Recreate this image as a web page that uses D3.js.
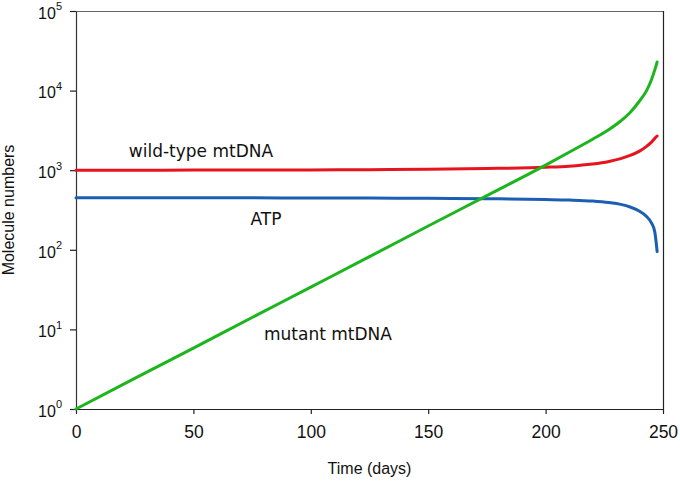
<!DOCTYPE html>
<html>
<head>
<meta charset="utf-8">
<script src="https://cdn.jsdelivr.net/npm/d3@7"></script>
<style>
  html, body { margin: 0; padding: 0; background: #fff; }
  svg { display: block; }
</style>
</head>
<body>
<svg id="chart" width="680" height="482"></svg>
<script>
// ---- data ----
const timeDays = [0, 25, 50, 75, 100, 125, 150, 175, 200, 210, 220, 227, 232, 236, 240, 243, 245, 246.5, 247.5];
const mutantMtDNA = [1, 2.42, 5.83, 14.1, 34, 82, 199, 480, 1160, 1680, 2450, 3250, 4150, 5300, 7400, 10000, 13500, 18200, 22900];
const wildTypeMtDNA = [1000, 1001, 1003, 1006, 1009, 1016, 1030, 1050, 1089, 1122, 1194, 1288, 1396, 1531, 1738, 1995, 2239, 2512, 2690];
const atp = [452, 452, 451, 450, 448, 446, 443, 438, 428, 422, 410, 392, 372, 345, 305, 262, 220, 168, 95];
const xTicks = [0, 50, 100, 150, 200, 250];
const yTickExponents = [0, 1, 2, 3, 4, 5];
const seriesNames = ["wild-type mtDNA", "ATP", "mutant mtDNA"];

// ---- layout ----
const svg = d3.select("#chart");
const mLeft = 76, mRight = 663, mTop = 11, mBottom = 409;

const x = d3.scaleLinear().domain([0, 250]).range([mLeft, mRight]);
const y = d3.scaleLog().domain([1, 1e5]).range([mBottom, mTop]);

const font = "Liberation Sans, Arial, sans-serif";

// frame (top + right)
svg.append("line").attr("x1", mLeft).attr("x2", mRight).attr("y1", mTop + 0.5).attr("y2", mTop + 0.5)
  .attr("stroke", "#666").attr("stroke-width", 1.2);
svg.append("line").attr("x1", mRight + 0.5).attr("x2", mRight + 0.5).attr("y1", mTop).attr("y2", mBottom)
  .attr("stroke", "#222").attr("stroke-width", 1.2);

// x axis
const xAxis = svg.append("g").attr("transform", `translate(0,${mBottom})`)
  .call(d3.axisBottom(x).tickValues(xTicks).tickSize(5).tickSizeOuter(0).tickPadding(12).tickFormat(d3.format("d")));
xAxis.select(".domain").attr("stroke", "#222").attr("stroke-width", 1.2);
xAxis.selectAll(".tick line").attr("stroke", "#222").attr("stroke-width", 1.2);
xAxis.selectAll(".tick text").attr("font-family", font).attr("font-size", 17.5).attr("fill", "#111");

// y axis
const yAxis = svg.append("g").attr("transform", `translate(${mLeft},0)`)
  .call(d3.axisLeft(y).tickValues(yTickExponents.map(e => Math.pow(10, e))).tickSize(6).tickSizeOuter(0).tickPadding(8).tickFormat(() => ""));
yAxis.select(".domain").attr("stroke", "#333").attr("stroke-width", 1.2);
yAxis.selectAll(".tick line").attr("stroke", "#222").attr("stroke-width", 1.2);
yAxis.selectAll(".tick text").each(function(d) {
  const t = d3.select(this);
  const e = Math.round(Math.log10(d));
  t.attr("font-family", font).attr("font-size", 16).attr("fill", "#111").attr("x", -14).attr("dy", "0.45em");
  t.text(null);
  t.append("tspan").text("10");
  t.append("tspan").attr("font-size", 11).attr("dy", "-0.75em").text(e);
});

// axis titles
svg.append("text").attr("x", (mLeft + mRight) / 2).attr("y", 474).attr("text-anchor", "middle")
  .attr("font-family", font).attr("font-size", 16).attr("fill", "#111").text("Time (days)");
svg.append("text").attr("transform", `translate(14,${(mTop + mBottom) / 2}) rotate(-90)`).attr("text-anchor", "middle")
  .attr("font-family", font).attr("font-size", 16).attr("fill", "#111").text("Molecule numbers");

// lines
const line = vals => d3.line().x((d, i) => x(timeDays[i])).y(d => y(d)).curve(d3.curveMonotoneX)(vals);
const series = [
  { vals: wildTypeMtDNA, color: "#e5141e" },
  { vals: atp, color: "#1c5fb2" },
  { vals: mutantMtDNA, color: "#1db51d" }
];
series.forEach(s => {
  svg.append("path").attr("d", line(s.vals)).attr("fill", "none")
    .attr("stroke", s.color).attr("stroke-width", 3).attr("stroke-linecap", "round");
});

// series labels
const labelFont = "'Comic Sans MS', 'DejaVu Sans', sans-serif";
const labels = [
  { text: seriesNames[0], x: 201, y: 157 },
  { text: seriesNames[1], x: 266, y: 225 },
  { text: seriesNames[2], x: 328, y: 340 }
];
labels.forEach(l => {
  svg.append("text").attr("x", l.x).attr("y", l.y).attr("text-anchor", "middle")
    .attr("font-family", labelFont).attr("font-size", 17).attr("fill", "#111").text(l.text);
});
</script>
</body>
</html>
